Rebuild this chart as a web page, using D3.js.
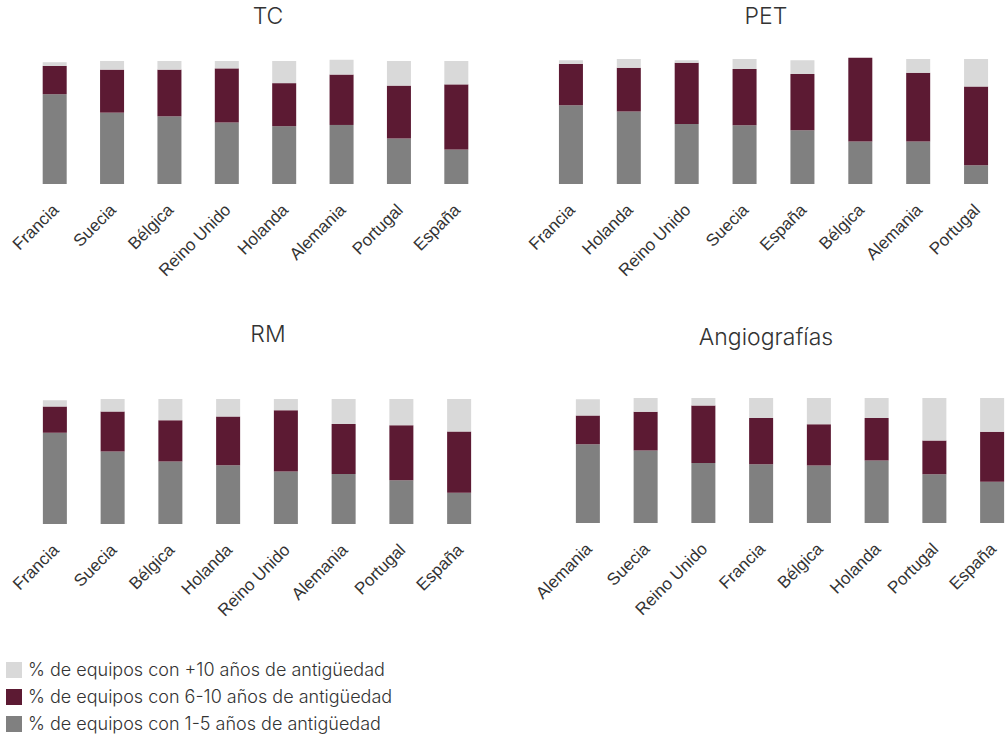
<!DOCTYPE html>
<html>
<head>
<meta charset="utf-8">
<script src="https://cdn.jsdelivr.net/npm/d3@7/dist/d3.min.js"></script>
<style>
  html, body { margin: 0; padding: 0; background: #fff; }
  svg { display: block; font-family: Inter, "Noto Sans", sans-serif; }
</style>
</head>
<body>
<svg id="chart" width="1008" height="738"></svg>
<script>
// Share of installed equipment by age bracket (%), per country and modality
const series = ["1-5", "6-10", "+10"];
const seriesColors = ["#808080", "#5c1a33", "#d9d9d9"];
const legendLabels = [
  "% de equipos con +10 años de antigüedad",
  "% de equipos con 6-10 años de antigüedad",
  "% de equipos con 1-5 años de antigüedad"
];
const legendColors = ["#d9d9d9", "#5c1a33", "#808080"];

const tcCountries = ["Francia", "Suecia", "Bélgica", "Reino Unido", "Holanda", "Alemania", "Portugal", "España"];
const tcNew   = [73, 58, 55, 50, 47, 48, 37, 28];
const tcMid   = [23, 35, 38, 44, 35, 41, 43, 53];
const tcOld   = [3, 7, 7, 6, 18, 12, 20, 19];

const petCountries = ["Francia", "Holanda", "Reino Unido", "Suecia", "España", "Bélgica", "Alemania", "Portugal"];
const petNew  = [63, 58, 48, 47, 43, 34, 34, 15];
const petMid  = [33, 35, 49, 45, 45, 67, 55, 63];
const petOld  = [3, 7, 2, 8, 11, 0, 11, 22];

const rmCountries = ["Francia", "Suecia", "Bélgica", "Holanda", "Reino Unido", "Alemania", "Portugal", "España"];
const rmNew   = [73, 58, 50, 47, 42, 40, 35, 25];
const rmMid   = [21, 32, 33, 39, 49, 40, 44, 49];
const rmOld   = [5, 10, 17, 14, 9, 20, 21, 26];

const angioCountries = ["Alemania", "Suecia", "Reino Unido", "Francia", "Bélgica", "Holanda", "Portugal", "España"];
const angioNew = [63, 58, 48, 47, 46, 50, 39, 33];
const angioMid = [23, 31, 46, 37, 33, 34, 27, 40];
const angioOld = [13, 11, 6, 16, 21, 16, 34, 27];

const panels = [
  { title: "TC", countries: tcCountries, values: [tcNew, tcMid, tcOld],
    x0: 26, x1: 485, yTop: 61, yBase: 184, tx: 268, ty: 24 },
  { title: "PET", countries: petCountries, values: [petNew, petMid, petOld],
    x0: 542, x1: 1005, yTop: 59, yBase: 184, tx: 766, ty: 24 },
  { title: "RM", countries: rmCountries, values: [rmNew, rmMid, rmOld],
    x0: 26, x1: 488, yTop: 399, yBase: 524, tx: 268, ty: 342 },
  { title: "Angiografías", countries: angioCountries, values: [angioNew, angioMid, angioOld],
    x0: 559, x1: 1021, yTop: 398, yBase: 523, tx: 766, ty: 345 }
];

const svg = d3.select("#chart");
const barWidth = 24;

panels.forEach(p => {
  const step = (p.x1 - p.x0) / p.countries.length;
  const pad = 1 - barWidth / step;
  const x = d3.scaleBand()
    .domain(p.countries)
    .range([p.x0, p.x1])
    .paddingInner(pad)
    .paddingOuter(pad / 2);
  const y = d3.scaleLinear().domain([0, 100]).range([p.yBase, p.yTop]);

  const rows = p.countries.map((c, i) => {
    const r = { country: c };
    series.forEach((s, k) => { r[s] = p.values[k][i]; });
    return r;
  });
  const stacked = d3.stack().keys(series)(rows);

  const g = svg.append("g");
  g.selectAll("g.layer")
    .data(stacked)
    .join("g")
    .attr("class", "layer")
    .attr("fill", (d, i) => seriesColors[i])
    .selectAll("rect")
    .data(d => d)
    .join("rect")
    .attr("x", d => x(d.data.country))
    .attr("width", x.bandwidth())
    .attr("y", d => y(d[1]))
    .attr("height", d => y(d[0]) - y(d[1]));

  // category axis without line or ticks, labels slanted
  const axis = g.append("g")
    .attr("transform", `translate(0,${p.yBase})`)
    .call(d3.axisBottom(x).tickSize(0).tickPadding(0));
  axis.select(".domain").remove();
  axis.selectAll("text")
    .attr("fill", "#333")
    .style("font-size", "17px")
    .style("font-weight", 300)
    .attr("text-anchor", "end")
    .attr("dy", 0)
    .attr("y", 0)
    .attr("transform", "translate(5,27) rotate(-45)");

  svg.append("text")
    .attr("x", p.tx)
    .attr("y", p.ty)
    .attr("text-anchor", "middle")
    .attr("fill", "#333")
    .style("font-size", "23px")
    .style("font-weight", 300)
    .text(p.title);
});

// legend
const legend = svg.append("g");
legendLabels.forEach((lab, i) => {
  const yy = 662 + i * 27;
  legend.append("rect")
    .attr("x", 6).attr("y", yy)
    .attr("width", 16).attr("height", 16)
    .attr("fill", legendColors[i]);
  legend.append("text")
    .attr("x", 28).attr("y", yy + 14)
    .attr("fill", "#333")
    .style("font-size", "18px")
    .style("font-weight", 300)
    .text(lab);
});
</script>
</body>
</html>
